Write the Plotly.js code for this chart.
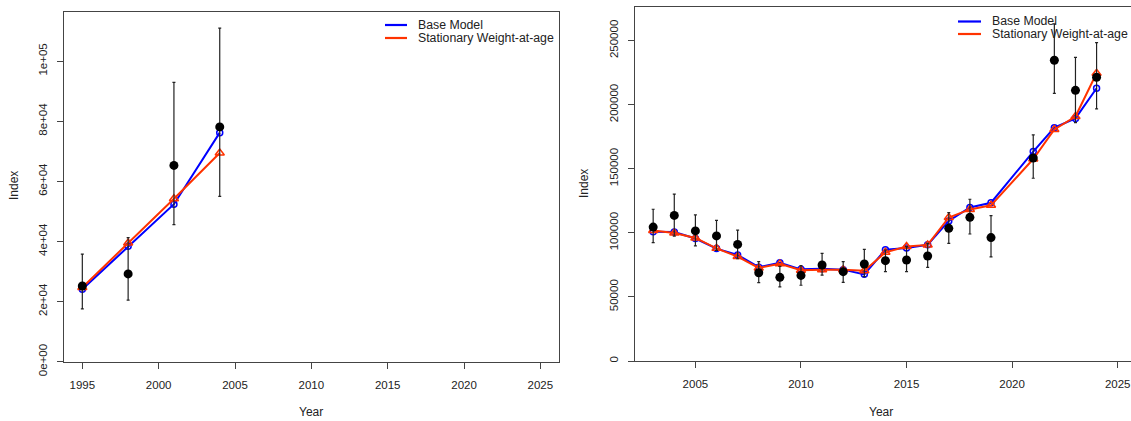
<!DOCTYPE html>
<html>
<head>
<meta charset="utf-8">
<script src="https://cdn.plot.ly/plotly-3.0.1.min.js"></script>
<style>
  html, body { margin: 0; padding: 0; background: white; }
  #myDiv { width: 1131px; height: 421px; }
</style>
</head>
<body>
<div id="myDiv"></div>
<script>
// left panel: early survey
const leftYears = [1995, 1998, 2001, 2004];
const leftObs = [25200, 29200, 65300, 78100];
const leftUpper = [35800, 41300, 92900, 111000];
const leftLower = [17600, 20500, 45600, 55000];
const leftBase = [24100, 38400, 52400, 76200];
const leftStat = [24700, 39500, 54200, 69400];

// right panel: later survey (no 2020)
const rightYears = [2003, 2004, 2005, 2006, 2007, 2008, 2009, 2010, 2011, 2012, 2013,
    2014, 2015, 2016, 2017, 2018, 2019, 2021, 2022, 2023, 2024];
const rightObs = [104500, 113600, 101500, 97600, 91000, 68900, 65300, 66800, 74900, 69700, 75700,
    78300, 78800, 81900, 103500, 112100, 96300, 158400, 234700, 211200, 221400];
const rightUpper = [118400, 130200, 114100, 109700, 102200, 77600, 73800, 74400, 84000, 77500, 87100,
    86600, 89200, 91800, 115800, 126200, 113400, 176400, 263000, 237000, 248400];
const rightLower = [92400, 97500, 89800, 86400, 79800, 61100, 57800, 59100, 67000, 61400, 65800,
    69700, 69700, 73100, 91800, 99100, 81200, 142600, 208900, 186000, 196700];
const rightBase = [100800, 100700, 95600, 87700, 82700, 73200, 76700, 71500, 71900, 71300, 67600,
    86900, 88200, 90700, 109300, 119800, 123500, 163400, 182100, 189300, 212800];
const rightStat = [101800, 99900, 96000, 87900, 81500, 72600, 75800, 70800, 71300, 71300, 70400,
    84800, 89300, 90600, 112000, 118300, 121500, 157600, 180700, 190800, 224500];

const modelNames = ["Base Model", "Stationary Weight-at-age"];
const modelColors = ["#0000FF", "#FF3300"];

const leftTickVals = [0, 20000, 40000, 60000, 80000, 100000];
const leftTickText = ["0e+00", "2e+04", "4e+04", "6e+04", "8e+04", "1e+05"];
const rightTickVals = [0, 50000, 100000, 150000, 200000, 250000];

const W = 1131, H = 421;
const px = (x) => x / W;
const py = (y) => (H - y) / H;

function panelTraces(years, obs, upper, lower, base, stat, xa, ya) {
    return [
        {
            x: years, y: base, xaxis: xa, yaxis: ya, type: "scatter", mode: "lines+markers",
            name: modelNames[0], showlegend: false,
            line: { color: modelColors[0], width: 2 },
            marker: { symbol: "circle-open", size: 6, color: modelColors[0], line: { width: 1.5 } },
        },
        {
            x: years, y: stat, xaxis: xa, yaxis: ya, type: "scatter", mode: "lines+markers",
            name: modelNames[1], showlegend: false,
            line: { color: modelColors[1], width: 2 },
            marker: { symbol: "triangle-up-open", size: 8, color: modelColors[1], line: { width: 1.5 } },
        },
        {
            x: years, y: obs, xaxis: xa, yaxis: ya, type: "scatter", mode: "markers",
            name: "Observed", showlegend: false,
            marker: { symbol: "circle", size: 9, color: "black" },
            error_y: {
                type: "data", symmetric: false,
                array: upper.map((u, i) => u - obs[i]),
                arrayminus: lower.map((l, i) => obs[i] - l),
                color: "#222", thickness: 1.2, width: 1.5,
            },
        },
    ];
}

const data = [
    ...panelTraces(leftYears, leftObs, leftUpper, leftLower, leftBase, leftStat, "x", "y"),
    ...panelTraces(rightYears, rightObs, rightUpper, rightLower, rightBase, rightStat, "x2", "y2"),
];

const axisCommon = {
    showline: true, linecolor: "#444", linewidth: 1,
    ticks: "outside", ticklen: 6, tickcolor: "#444", tickwidth: 1,
    showgrid: false, zeroline: false, fixedrange: true,
    tickfont: { size: 11.5, color: "#222" },
};

// manual legends (line keys + labels), like R's legend()
const shapes = [];
const annotations = [];
function addLegend(x0, x1, xt, rows) {
    rows.forEach((yy, i) => {
        shapes.push({
            type: "line", xref: "paper", yref: "paper",
            x0: px(x0), x1: px(x1), y0: py(yy), y1: py(yy),
            line: { color: modelColors[i], width: 2.2 },
        });
        annotations.push({
            xref: "paper", yref: "paper", x: px(xt), y: py(yy),
            xanchor: "left", yanchor: "middle", showarrow: false,
            text: modelNames[i], font: { size: 12.3, color: "#222" },
        });
    });
}
addLegend(385, 407, 416, [25, 38]);
addLegend(958, 981, 990, [21.5, 34]);

function addTitles(cx, cy, xIdx, yearY) {
    annotations.push({
        xref: "paper", yref: "paper", x: px(xIdx), y: py(cy), textangle: -90,
        xanchor: "center", yanchor: "middle", showarrow: false,
        text: "Index", font: { size: 12, color: "#222" },
    });
    annotations.push({
        xref: "paper", yref: "paper", x: px(cx), y: py(yearY),
        xanchor: "center", yanchor: "middle", showarrow: false,
        text: "Year", font: { size: 12, color: "#222" },
    });
}
addTitles(311, 186, 14, 412);
addTitles(881, 184, 584, 412);

const layout = {
    width: W, height: H,
    margin: { l: 0, r: 0, t: 0, b: 0 },
    paper_bgcolor: "white", plot_bgcolor: "white",
    font: { family: "Liberation Sans, Arial, sans-serif", color: "#222" },
    showlegend: false,
    xaxis: {
        ...axisCommon, anchor: "y", domain: [px(64), px(558.7)],
        range: [1993.8, 2026.2], tickvals: [1995, 2000, 2005, 2010, 2015, 2020, 2025],
        mirror: true, ticklabelstandoff: 6,
    },
    yaxis: {
        ...axisCommon, anchor: "x", domain: [py(361.7), py(11.5)],
        range: [0, 116500], tickvals: leftTickVals, ticktext: leftTickText,
        tickangle: -90, mirror: true, ticklabelstandoff: 5,
    },
    xaxis2: {
        ...axisCommon, anchor: "y2", domain: [px(634.8), 1],
        range: [2002.13, 2025.63], tickvals: [2005, 2010, 2015, 2020, 2025],
        mirror: true, ticklabelstandoff: 6,
    },
    yaxis2: {
        ...axisCommon, anchor: "x2", domain: [py(361), py(7.3)],
        range: [0, 276000], tickvals: rightTickVals, ticktext: rightTickVals.map(String),
        tickangle: -90, mirror: false, ticklabelstandoff: 5,
    },
    shapes: shapes,
    annotations: annotations,
};

Plotly.newPlot("myDiv", data, layout, { displayModeBar: false, staticPlot: true });
</script>
</body>
</html>
